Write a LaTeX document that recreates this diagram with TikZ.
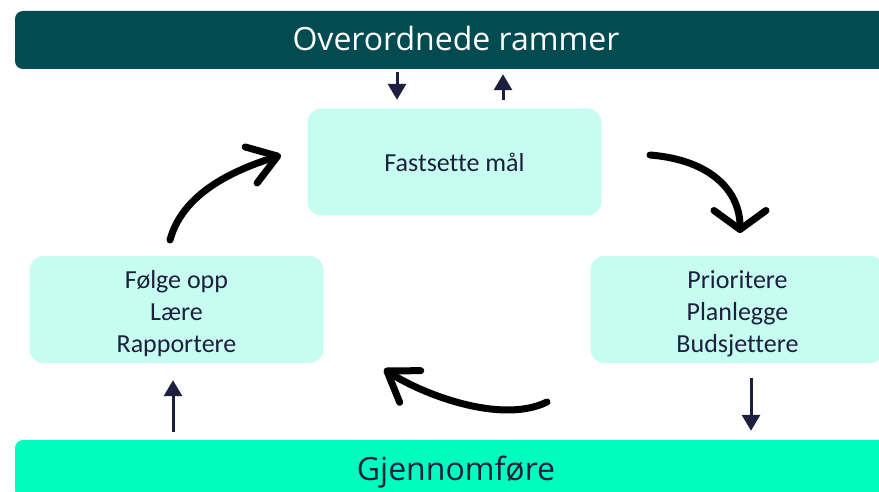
\documentclass[tikz,border=0pt]{standalone}
\usepackage{fontspec}
\setmainfont{Carlito}[Ligatures=NoCommon]
\newfontfamily\barfont{Open Sans}
\usetikzlibrary{arrows.meta}

\definecolor{rammeteal}{HTML}{024B50}
\definecolor{gjennomgreen}{HTML}{00FDC0}
\definecolor{boxcyan}{HTML}{C6FDF0}
\definecolor{pilnavy}{HTML}{1C1F3D}

\begin{document}
\begin{tikzpicture}[x=1pt,y=-1pt,
	bar/.style={rounded corners=8pt,minimum width=882pt,minimum height=58pt,inner sep=0pt,text height=22pt,text depth=0pt,font=\barfont\fontsize{32}{38}\selectfont},
	steg/.style={fill=boxcyan,rounded corners=14pt,minimum width=294pt,minimum height=107pt,align=center,text=pilnavy,font=\fontsize{26}{32}\selectfont},
	tre/.style={text height=91pt,text depth=6pt},
	liten/.style={draw=pilnavy,line width=3pt,-{Triangle[length=16pt,width=18pt]}},
	sirkel/.style={draw=black,line width=7pt,line cap=round,-{Straight Barb[length=28pt,width=38pt,line cap=round,line join=round]}}]
	
	\useasboundingbox (0,0) rectangle (879,492);
	
	\node[bar,fill=rammeteal,text=white] (rammer)  at (456,40)  {Overordnede rammer};
	\node[bar,fill=gjennomgreen,text=pilnavy] (gjennom) at (456,469) {Gjennomføre};
	
	\node[steg] (maal)  at (454.5,162)   {Fastsette mål};
	\node[steg,tre] (folge) at (176.5,309.5) {Følge opp\\Lære\\Rapportere};
	\node[steg,tre] (prior) at (737.5,309.5) {Prioritere\\Planlegge\\Budsjettere};
	
	% x-positions of the small arrows
	\coordinate (ned) at (397,0);
	\coordinate (opp) at (503,0);
	\coordinate (venstre) at (173,0);
	\coordinate (hoyre) at (751,0);
	
	\draw[liten,shorten <=3pt,shorten >=8.5pt] (rammer.south -| ned) -- (maal.north -| ned);
	\draw[liten,shorten <=8.5pt,shorten >=5pt] (maal.north -| opp) -- (rammer.south -| opp);
	\draw[liten,shorten <=8pt,shorten >=17pt] (gjennom.north -| venstre) -- (folge.south -| venstre);
	\draw[liten,shorten <=15pt,shorten >=9pt] (prior.south -| hoyre) -- (gjennom.north -| hoyre);
	
	% the cycle
	\coordinate (f1) at (170,240);
	\coordinate (f2) at (281,155);
	\coordinate (p1) at (650,155);
	\coordinate (p2) at (740,233);
	\coordinate (g1) at (547,402);
	\coordinate (g2) at (384,369);
	
	\draw[sirkel] (f1) .. controls (184,188) and (245,167) .. (f2);
	\draw[sirkel,-{Straight Barb[length=19pt,width=52pt,line cap=round,line join=round]}] (p1) .. controls (712,160) and (740,192) .. (p2);
	\draw[sirkel] (g1) .. controls (500,425) and (420,393) .. (g2);
	
\end{tikzpicture}
\end{document}
